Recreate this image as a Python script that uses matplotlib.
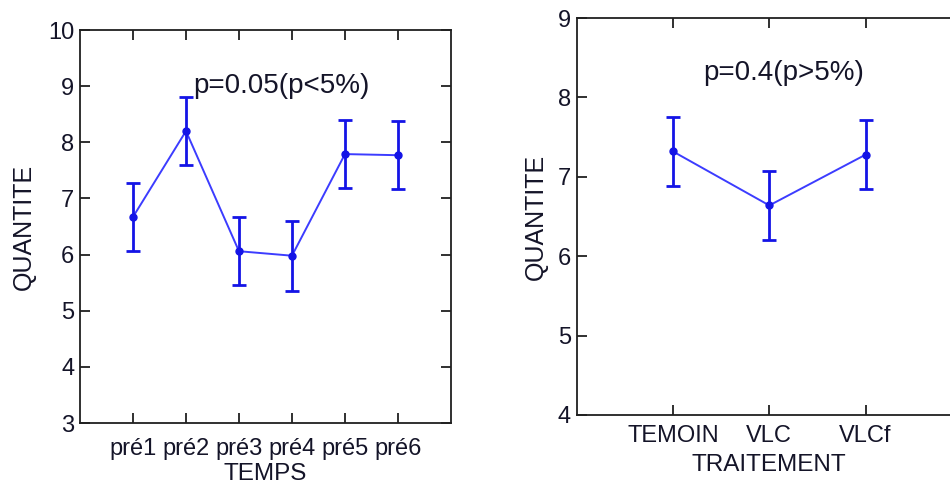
import matplotlib
matplotlib.use("Agg")
import matplotlib.pyplot as plt

# left panel: QUANTITE vs TEMPS
temps = ["pré1", "pré2", "pré3", "pré4", "pré5", "pré6"]
temps_mean = [6.67, 8.20, 6.06, 5.98, 7.79, 7.77]
temps_err = [0.61, 0.61, 0.61, 0.62, 0.61, 0.61]

# right panel: QUANTITE vs TRAITEMENT
traitement = ["TEMOIN", "VLC", "VLCf"]
trait_mean = [7.32, 6.64, 7.28]
trait_err = [0.43, 0.43, 0.43]

plt.rcParams["font.family"] = ["Liberation Sans", "DejaVu Sans"]
plt.rcParams["font.size"] = 17

TXT = "#141428"
LINE = "#3c3cff"
ERR = "#1414e6"

fig = plt.figure(figsize=(9.5, 4.84), dpi=100)
ax1 = fig.add_axes([0.0842, 0.126, 0.3905, 0.812])
ax2 = fig.add_axes([0.607, 0.1426, 0.4056, 0.820])


def style(ax):
    for s in ax.spines.values():
        s.set_linewidth(1.3)
        s.set_color("#202020")
    ax.tick_params(direction="in", length=7, width=1.3, top=True, right=True,
                   colors="#202020", labelcolor=TXT, labelsize=17)
    ax.tick_params(axis="y", pad=4)


def draw(ax, mean, err):
    x = list(range(1, len(mean) + 1))
    ax.plot(x, mean, color=LINE, lw=1.4, zorder=2)
    ax.errorbar(x, mean, yerr=err, fmt="o", color=ERR, ms=5, elinewidth=2,
                capsize=5, capthick=2, zorder=3)
    return x


x1 = draw(ax1, temps_mean, temps_err)
ax1.set_xlim(0, 7)
ax1.set_ylim(3, 10)
ax1.set_xticks(x1)
ax1.set_xticklabels(temps)
ax1.set_yticks(range(3, 11))
style(ax1)
ax1.tick_params(axis="x", pad=11)
ax1.set_xlabel("TEMPS", color=TXT, labelpad=2, fontsize=17.5)
ax1.set_ylabel("QUANTITE", color=TXT, fontsize=18)
ax1.yaxis.set_label_coords(-0.12, 0.5)
ax1.text(3.8, 9.0, "p=0.05(p<5%)", ha="center", va="center", color=TXT,
         fontsize=20)

x2 = draw(ax2, trait_mean, trait_err)
ax2.set_xlim(0, 4)
ax2.set_ylim(4, 9)
ax2.set_xticks(x2)
ax2.set_xticklabels(traitement)
ax2.set_yticks(range(4, 10))
style(ax2)
ax2.tick_params(axis="x", pad=7)
ax2.set_xlabel("TRAITEMENT", color=TXT, labelpad=5, fontsize=17.5)
ax2.set_ylabel("QUANTITE", color=TXT, fontsize=18)
ax2.yaxis.set_label_coords(-0.075, 0.5)
ax2.text(2.15, 8.31, "p=0.4(p>5%)", ha="center", va="center", color=TXT,
         fontsize=20)

fig.savefig("out.png", dpi=100)
